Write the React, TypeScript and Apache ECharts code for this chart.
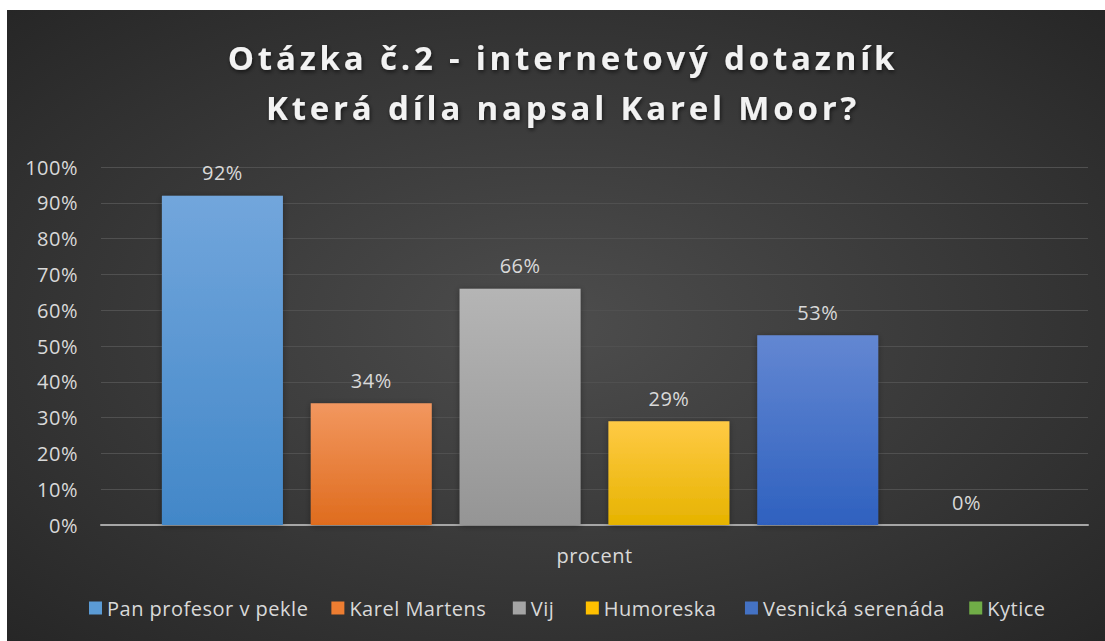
import React, { useEffect, useRef } from "react";
import * as echarts from "echarts";

const titleLines = ["Otázka č.2 - internetový dotazník", "Která díla napsal Karel Moor?"];
const categories = ["procent"];
const seriesNames = ["Pan profesor v pekle", "Karel Martens", "Vij", "Humoreska", "Vesnická serenáda", "Kytice"];
const seriesValues = [92, 34, 66, 29, 53, 0];
const yTicks = { min: 0, max: 100, interval: 10 };
const colorTop = ["#72a6dc", "#f2975f", "#b5b5b5", "#ffca45", "#6387d2", "#82bd5a"];
const colorBottom = ["#4287c8", "#df6c1e", "#959595", "#e6b300", "#2f61bf", "#5f9a37"];
const legendColors = ["#5b9bd5", "#ed7d31", "#a5a5a5", "#ffc000", "#4472c4", "#70ad47"];

export default function App() {
  const ref = useRef<HTMLDivElement>(null);
  useEffect(() => {
    if (!ref.current) return;
    const chart = echarts.init(ref.current, null, { renderer: "svg" });
    const font = "Open Sans";
    const series = seriesNames.map((name, i) => ({
      name,
      type: "bar",
      data: [seriesValues[i]],
      barWidth: 121,
      barGap: "23%",
      itemStyle: {
        color: new echarts.graphic.LinearGradient(0, 0, 0, 1, [
          { offset: 0, color: colorTop[i] },
          { offset: 1, color: colorBottom[i] },
        ]),
        shadowColor: "rgba(0,0,0,0.35)",
        shadowBlur: 6,
        shadowOffsetY: 1,
      },
      label: {
        show: true,
        position: "top",
        distance: 13,
        formatter: "{c}%",
        color: "#d9d9d9",
        fontSize: 20,
        fontFamily: font,
      },
    }));
    chart.setOption({
      animation: false,
      backgroundColor: {
        type: "radial",
        x: 0.5,
        y: 0.5,
        r: 0.75,
        colorStops: [
          { offset: 0, color: "#4d4d4d" },
          { offset: 1, color: "#242424" },
        ],
      },
      title: {
        text: titleLines.join("\n"),
        left: 556,
        textAlign: "center",
        top: 22,
        padding: 0,
        textStyle: {
          color: "#f2f2f2",
          fontSize: 33,
          fontWeight: "bold",
          fontFamily: font,
          lineHeight: 50,
          textShadowColor: "rgba(0,0,0,0.6)",
          textShadowBlur: 4,
          textShadowOffsetX: 1,
          textShadowOffsetY: 2,
        },
      },
      legend: {
        data: seriesNames.map((n, i) => ({ name: n, itemStyle: { color: legendColors[i] } })),
        bottom: 18,
        left: 77,
        icon: "rect",
        itemWidth: 13,
        itemHeight: 13,
        itemGap: 33,
        textStyle: { color: "#d9d9d9", fontSize: 20, fontFamily: font },
      },
      grid: { left: 94, right: 17, top: 157, bottom: 116, containLabel: false },
      xAxis: {
        type: "category",
        data: categories,
        axisLine: { lineStyle: { color: "#a6a6a6", width: 2 } },
        axisTick: { show: false },
        axisLabel: { color: "#d9d9d9", fontSize: 20, fontFamily: font, margin: 20 },
      },
      yAxis: {
        type: "value",
        min: yTicks.min,
        max: yTicks.max,
        interval: yTicks.interval,
        axisLine: { show: false },
        axisTick: { show: false },
        splitLine: { lineStyle: { color: "#505050", width: 1 } },
        axisLabel: { color: "#d9d9d9", fontSize: 20, fontFamily: font, margin: 23, formatter: "{value}%" },
      },
      series,
    });
    const spaceText = () => {
      if (!ref.current) return;
      ref.current.querySelectorAll("text").forEach((el) => {
        const t = (el.textContent || "").trim();
        (el as SVGElement).style.letterSpacing = titleLines.includes(t) ? "3.8px" : "0.5px";
      });
    };
    spaceText();
    chart.on("finished", spaceText);
    const timer = setTimeout(spaceText, 50);
    return () => {
      clearTimeout(timer);
      chart.dispose();
    };
  }, []);
  return (
    <div
      ref={ref}
      style={{ position: "absolute", left: 7, top: 10, width: 1098, height: 631 }}
    />
  );
}
